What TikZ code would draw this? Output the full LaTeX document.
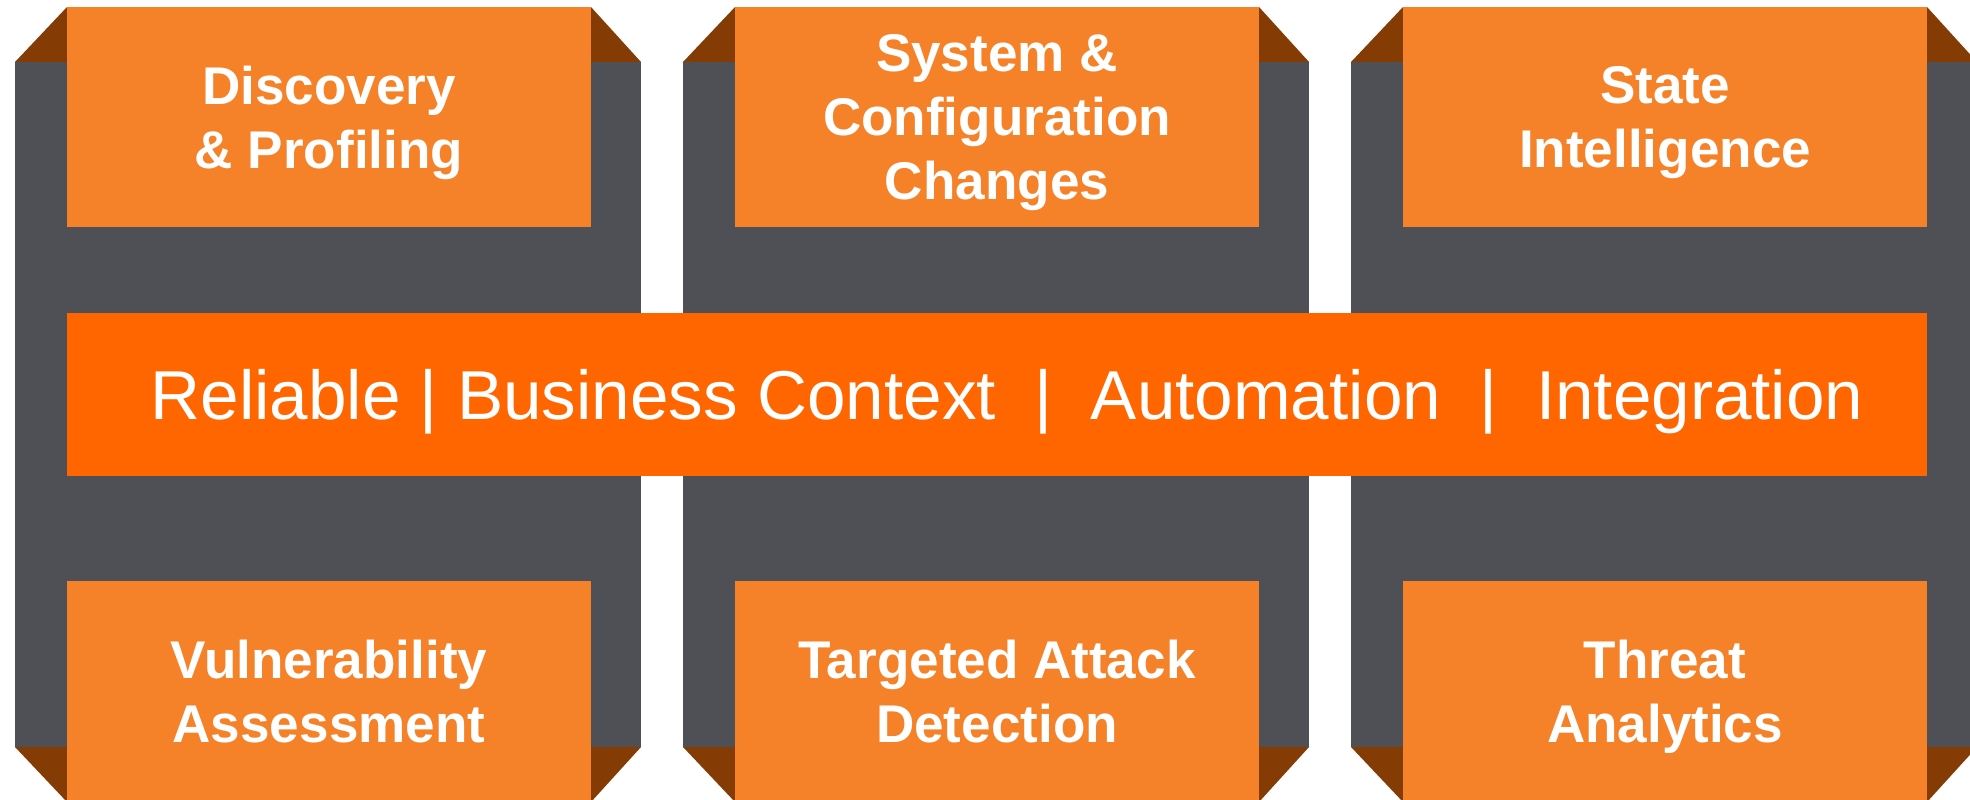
\documentclass[tikz,border=0pt]{standalone}
\usepackage{fontspec}
\setmainfont{Liberation Sans}
\usepackage{tikz}

\definecolor{pillargray}{RGB}{79,80,85}
\definecolor{tileorange}{RGB}{245,130,41}
\definecolor{bandorange}{RGB}{255,102,0}
\definecolor{foldbrown}{RGB}{133,60,4}

\tikzset{
  tile/.style={fill=tileorange, text=white, inner sep=0pt, align=center,
    minimum width=5.24cm, minimum height=2.2cm, text depth=0pt,
    font=\bfseries\fontsize{15.1}{18.2}\selectfont},
  band/.style={fill=bandorange, text=white, inner sep=0pt,
    minimum width=18.6cm, minimum height=1.63cm, text depth=0pt,
    font=\fontsize{19.7}{24}\selectfont},
}

\begin{document}
\begin{tikzpicture}
    \useasboundingbox (0,0) rectangle (19.70,7.99);
    % pillars with folded corners
    \foreach \x in {0,6.68,13.36} {
        \fill[pillargray] (\x+0.15,0.52) rectangle (\x+6.41,7.37);
        \fill[foldbrown] (\x+0.15,7.37) -- (\x+0.67,7.92) -- (\x+0.67,7.37) -- cycle;
        \fill[foldbrown] (\x+6.41,7.37) -- (\x+5.91,7.92) -- (\x+5.91,7.37) -- cycle;
        \fill[foldbrown] (\x+0.15,0.52) -- (\x+0.67,-0.03) -- (\x+0.67,0.52) -- cycle;
        \fill[foldbrown] (\x+6.41,0.52) -- (\x+5.91,-0.03) -- (\x+5.91,0.52) -- cycle;
    }
    \node[tile] (disc) at (3.29,6.82) {Discovery\\\& Profiling};
    \node[tile] (sys) at (9.97,6.82) {System \&\\Configuration\\Changes};
    \node[tile] (state) at (16.65,6.82) {State\\Intelligence};
    \node[tile] (vuln) at (3.29,1.08) {Vulnerability\\Assessment};
    \node[tile] (attack) at (9.97,1.08) {Targeted Attack\\Detection};
    \node[tile] (threat) at (16.65,1.08) {Threat\\Analytics};
    \node[band] (core) at (9.97,4.045) {\hspace*{0.2cm}Reliable | Business Context\ \ |\ \ Automation\ \ |\ \ Integration};
\end{tikzpicture}
\end{document}
